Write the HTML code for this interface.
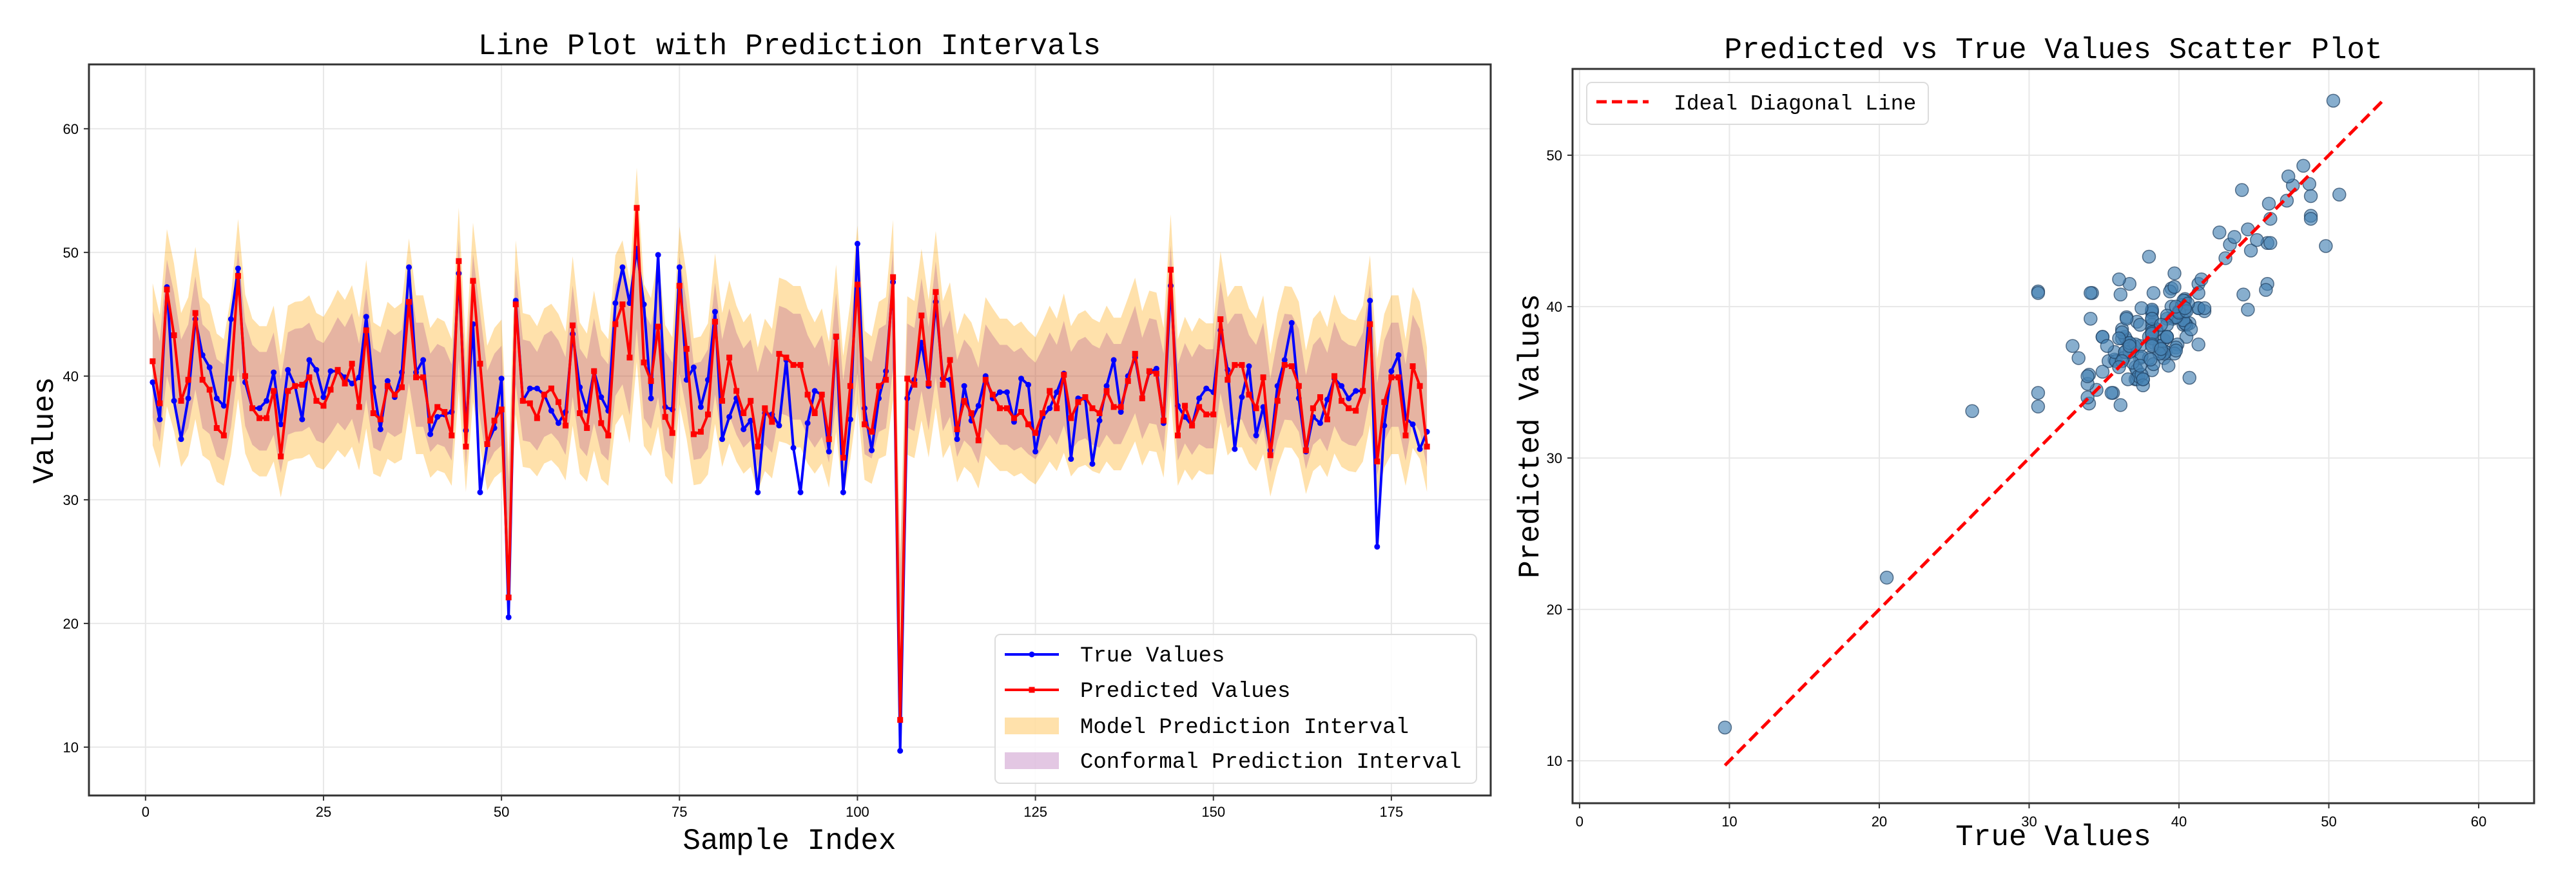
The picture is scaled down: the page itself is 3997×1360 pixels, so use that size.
<!DOCTYPE html>
<html><head><meta charset="utf-8"><style>
html,body{margin:0;padding:0;background:#fff;}
svg{display:block;}
text{font-family:"Liberation Mono","Noto Sans CJK SC",monospace;fill:#000;}
</style></head><body>
<svg id="chart" width="3997" height="1360" viewBox="0 0 3997 1360" xmlns="http://www.w3.org/2000/svg"></svg>
<script>
const trueValues=[39.5,36.5,47.2,38.0,34.9,38.2,44.6,41.7,40.7,38.2,37.6,44.6,48.7,39.5,37.4,37.4,38.0,40.3,36.1,40.5,39.2,36.5,41.3,40.5,38.3,40.4,40.4,39.9,39.4,39.9,44.8,39.1,35.7,39.6,38.3,40.3,48.8,40.3,41.3,35.3,36.7,36.9,37.1,48.3,35.6,44.2,30.6,34.5,35.8,39.8,20.5,46.1,38.0,39.0,39.0,38.5,37.2,36.2,37.1,43.4,39.1,37.2,40.4,38.3,37.2,45.9,48.8,45.9,50.3,45.8,38.2,49.8,37.5,37.3,48.8,39.7,40.7,37.5,39.7,45.2,34.9,36.7,38.2,35.7,36.4,30.6,37.0,36.9,36.0,41.3,34.2,30.6,36.2,38.8,38.5,33.9,43.1,30.6,36.5,50.7,37.4,34.0,38.2,40.4,47.6,9.7,38.2,39.7,42.7,39.2,46.0,39.8,39.7,34.9,39.2,36.4,37.6,40.0,38.2,38.7,38.7,36.3,39.8,39.3,33.9,36.7,37.4,38.7,40.2,33.3,38.2,38.2,32.9,36.4,39.2,41.3,37.1,40.0,41.5,38.2,40.3,40.6,36.2,47.3,37.6,36.7,36.0,38.2,39.0,38.7,43.7,40.5,34.1,38.3,40.8,35.2,37.5,34.0,39.2,41.3,44.3,38.2,33.9,36.7,36.2,38.1,39.8,39.2,38.2,38.8,38.8,46.1,26.2,36.0,40.4,41.7,36.6,36.1,34.1,35.5];
const predValues=[41.2,37.8,47.0,43.3,38.0,39.7,45.1,39.7,38.9,35.8,35.2,39.8,48.1,40.0,37.4,36.6,36.6,38.8,33.5,38.8,39.2,39.3,39.9,38.0,37.6,38.9,40.5,39.4,41.0,37.5,43.7,37.0,36.5,39.2,38.5,39.1,46.0,39.9,39.9,36.4,37.5,37.1,35.2,49.3,34.3,47.7,41.0,34.5,36.4,37.3,22.1,45.8,38.0,37.8,36.6,38.5,39.0,37.9,36.0,44.1,37.0,35.8,40.4,36.2,35.2,44.2,45.8,41.5,53.6,41.1,39.6,44.0,36.7,35.4,47.3,42.2,35.3,35.5,36.9,44.4,38.0,41.5,38.8,37.0,38.0,34.3,37.4,36.3,41.8,41.5,40.9,40.9,38.5,37.0,38.5,34.9,43.2,33.4,39.2,47.4,36.1,35.5,39.2,39.7,48.0,12.2,39.8,39.3,44.9,39.4,46.8,39.3,41.3,35.7,38.0,37.0,34.8,39.7,38.5,37.4,37.4,36.6,37.1,36.1,35.4,37.0,38.8,37.4,40.1,36.6,37.9,38.3,37.4,37.0,38.8,37.5,37.5,39.6,41.8,38.2,40.4,40.2,36.4,48.6,35.2,37.6,36.0,37.5,36.9,36.9,44.6,39.7,40.9,40.9,38.5,37.4,39.9,33.6,38.0,40.9,40.8,39.2,34.0,37.4,38.3,36.5,40.0,38.0,37.4,37.2,38.8,44.2,33.1,37.9,39.9,39.9,35.2,40.8,39.2,34.3];
const lineXTicks=[0,25,50,75,100,125,150,175];
const lineYTicks=[10,20,30,40,50,60];
const scatterXTicks=[0,10,20,30,40,50,60];
const scatterYTicks=[10,20,30,40,50];
const legendLabels=["True Values","Predicted Values","Model Prediction Interval","Conformal Prediction Interval"];

const NS="http://www.w3.org/2000/svg";
const svg=document.getElementById('chart');
function mk(tag,attrs,parent){const e=document.createElementNS(NS,tag);for(const k in attrs)e.setAttribute(k,attrs[k]);(parent||svg).appendChild(e);return e;}

const L={x0:138,x1:2313,y0:100,y1:1235,xmin:-7.95,xmax:188.95,ymin:6.09,ymax:65.2};
const lx=v=>L.x0+(v-L.xmin)/(L.xmax-L.xmin)*(L.x1-L.x0);
const ly=v=>L.y1-(v-L.ymin)/(L.ymax-L.ymin)*(L.y1-L.y0);
const S={x0:2440,x1:3932,y0:107,y1:1247,xmin:-0.47,xmax:63.7,ymin:7.2,ymax:55.7};
const sx=v=>S.x0+(v-S.xmin)/(S.xmax-S.xmin)*(S.x1-S.x0);
const sy=v=>S.y1-(v-S.ymin)/(S.ymax-S.ymin)*(S.y1-S.y0);

lineXTicks.forEach(t=>{
  const g=mk('line',{x1:lx(t),x2:lx(t),y1:L.y0,y2:L.y1,stroke:'#e8e8e8','stroke-width':2});
  
  
  const tk=mk('line',{x1:lx(t),x2:lx(t),y1:L.y1,y2:L.y1+8,stroke:'#333','stroke-width':2});
  
  
  const tx=mk('text',{x:lx(t),y:L.y1+33,'text-anchor':'middle','font-size':22,style:'font-family:"Liberation Sans",sans-serif'});
  tx.textContent=t;
  
  
});
lineYTicks.forEach(t=>{
  const g=mk('line',{x1:L.x0,x2:L.x1,y1:ly(t),y2:ly(t),stroke:'#e8e8e8','stroke-width':2});
  
  
  const tk=mk('line',{x1:L.x0-8,x2:L.x0,y1:ly(t),y2:ly(t),stroke:'#333','stroke-width':2});
  
  
  const tx=mk('text',{x:L.x0-16,y:ly(t)+8,'text-anchor':'end','font-size':22,style:'font-family:"Liberation Sans",sans-serif'});
  tx.textContent=t;
  
  
});

function band(scaleFrac){
  const up=[],lo=[];
  predValues.forEach((p,i)=>{const c=0.65*p+0.35*40.5;const h=scaleFrac*c;up.push([lx(i+1),ly(c+h)]);lo.push([lx(i+1),ly(c-h)]);});
  return up.map(p=>p.join(',')).join(' ')+' '+lo.reverse().map(p=>p.join(',')).join(' ');
}
const mb=mk('polygon',{points:band(0.16),fill:'rgb(255,165,0)','fill-opacity':0.33});


const cb=mk('polygon',{points:band(0.105),fill:'rgb(128,0,128)','fill-opacity':0.2});



const tl=mk('polyline',{points:trueValues.map((v,i)=>lx(i+1)+','+ly(v)).join(' '),fill:'none',stroke:'#0000ff','stroke-width':4,'stroke-linejoin':'round'});


trueValues.forEach((v,i)=>{const c=mk('circle',{cx:lx(i+1),cy:ly(v),r:4.5,fill:'#0000ff'});
  
  });
const pl=mk('polyline',{points:predValues.map((v,i)=>lx(i+1)+','+ly(v)).join(' '),fill:'none',stroke:'#ff0000','stroke-width':4,'stroke-linejoin':'round'});


predValues.forEach((v,i)=>{const r=mk('rect',{x:lx(i+1)-4.5,y:ly(v)-4.5,width:9,height:9,fill:'#ff0000'});
  
  });

const lf=mk('rect',{x:L.x0,y:L.y0,width:L.x1-L.x0,height:L.y1-L.y0,fill:'none',stroke:'#333','stroke-width':3});



const lg=mk('g',{});


mk('rect',{x:1544,y:985,width:747,height:231,rx:8,fill:'#fff','fill-opacity':0.85,stroke:'#dcdcdc','stroke-width':2},lg);
const legY=[1016,1071,1127,1181];
mk('line',{x1:1559,x2:1643,y1:legY[0],y2:legY[0],stroke:'#0000ff','stroke-width':4},lg);
mk('circle',{cx:1601,cy:legY[0],r:4.5,fill:'#0000ff'},lg);
mk('line',{x1:1559,x2:1643,y1:legY[1],y2:legY[1],stroke:'#ff0000','stroke-width':4},lg);
mk('rect',{x:1596.5,y:legY[1]-4.5,width:9,height:9,fill:'#ff0000'},lg);
mk('rect',{x:1559,y:legY[2]-13,width:84,height:26,fill:'rgb(255,165,0)','fill-opacity':0.33},lg);
mk('rect',{x:1559,y:legY[3]-13,width:84,height:26,fill:'rgb(128,0,128)','fill-opacity':0.22},lg);
legendLabels.forEach((t,i)=>{const e=mk('text',{x:1676,y:legY[i]+11,'font-size':34},lg);e.textContent=t;
  
  });

let e=mk('text',{x:1225,y:84,'text-anchor':'middle','font-size':46});e.textContent='Line Plot with Prediction Intervals';


e=mk('text',{x:1225,y:1318,'text-anchor':'middle','font-size':46});e.textContent='Sample Index';


e=mk('text',{x:0,y:0,'text-anchor':'middle','font-size':46,transform:'translate(82,668) rotate(-90)'});e.textContent='Values';



scatterXTicks.forEach(t=>{
  const g=mk('line',{x1:sx(t),x2:sx(t),y1:S.y0,y2:S.y1,stroke:'#e8e8e8','stroke-width':2});
  
  
  const tk=mk('line',{x1:sx(t),x2:sx(t),y1:S.y1,y2:S.y1+8,stroke:'#333','stroke-width':2});
  
  
  const tx=mk('text',{x:sx(t),y:S.y1+36,'text-anchor':'middle','font-size':22,style:'font-family:"Liberation Sans",sans-serif'});
  tx.textContent=t;
  
  
});
scatterYTicks.forEach(t=>{
  const g=mk('line',{x1:S.x0,x2:S.x1,y1:sy(t),y2:sy(t),stroke:'#e8e8e8','stroke-width':2});
  
  
  const tk=mk('line',{x1:S.x0-8,x2:S.x0,y1:sy(t),y2:sy(t),stroke:'#333','stroke-width':2});
  
  
  const tx=mk('text',{x:S.x0-16,y:sy(t)+8,'text-anchor':'end','font-size':22,style:'font-family:"Liberation Sans",sans-serif'});
  tx.textContent=t;
  
  
});
trueValues.forEach((v,i)=>{const c=mk('circle',{cx:sx(v),cy:sy(predValues[i]),r:10,fill:'rgb(70,130,180)','fill-opacity':0.65,stroke:'#1f3f5f','stroke-width':1.5,'stroke-opacity':0.7});
  
  });
const all=trueValues.concat(predValues);
const mn=Math.min(...all),mx=Math.max(...all);
const dl=mk('line',{x1:sx(mn),y1:sy(mn),x2:sx(mx),y2:sy(mx),stroke:'#ff0000','stroke-width':5,'stroke-dasharray':'18,9'});


const sf=mk('rect',{x:S.x0,y:S.y0,width:S.x1-S.x0,height:S.y1-S.y0,fill:'none',stroke:'#333','stroke-width':3});


const sl=mk('g',{});


mk('rect',{x:2462,y:128,width:530,height:65,rx:8,fill:'#fff','fill-opacity':0.85,stroke:'#dcdcdc','stroke-width':2},sl);
mk('line',{x1:2477,x2:2558,y1:158,y2:158,stroke:'#ff0000','stroke-width':5,'stroke-dasharray':'16,8'},sl);
e=mk('text',{x:2597,y:170,'font-size':33},sl);e.textContent='Ideal Diagonal Line';


e=mk('text',{x:3186,y:90,'text-anchor':'middle','font-size':46});e.textContent='Predicted vs True Values Scatter Plot';


e=mk('text',{x:3186,y:1312,'text-anchor':'middle','font-size':46});e.textContent='True Values';


e=mk('text',{x:0,y:0,'text-anchor':'middle','font-size':46,transform:'translate(2387,677) rotate(-90)'});e.textContent='Predicted Values';


</script>
</body></html>
